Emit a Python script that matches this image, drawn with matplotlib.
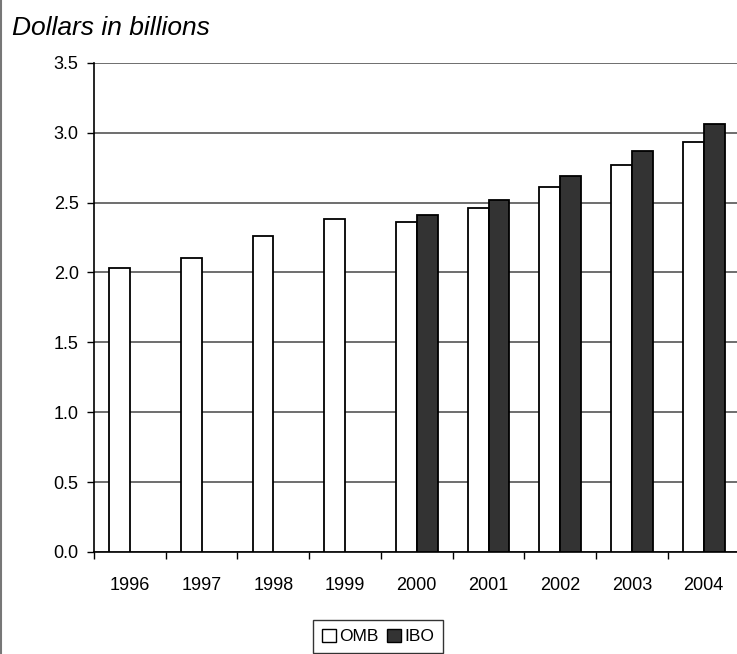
#! /usr/bin/env python

import numpy as np
import matplotlib.pyplot as plt
from matplotlib.lines import Line2D
from matplotlib.patches import Patch

plt.rcParams['font.family'] = ['Liberation Sans', 'DejaVu Sans']

# data (dollars in billions)
years = ['1996', '1997', '1998', '1999', '2000', '2001', '2002', '2003', '2004']
omb = [2.03, 2.10, 2.26, 2.38, 2.36, 2.46, 2.61, 2.77, 2.93]
ibo = [None, None, None, None, 2.41, 2.52, 2.69, 2.87, 3.06]

yticks = [0.0, 0.5, 1.0, 1.5, 2.0, 2.5, 3.0, 3.5]

fig = plt.figure(figsize=(7.37, 6.54), dpi=100)
ax = fig.add_axes([0.1275, 0.156, 0.876, 0.748])

x = np.arange(len(years))
w = 0.29

ax.bar(x - w / 2, omb, width=w, color='white', edgecolor='black', linewidth=1.3, zorder=3)
ibo_x = [xi for xi, v in zip(x, ibo) if v is not None]
ibo_v = [v for v in ibo if v is not None]
ax.bar(np.array(ibo_x) + w / 2, ibo_v, width=w, color='#333333', edgecolor='black',
       linewidth=1.3, zorder=3)

# axes
ax.set_xlim(-0.5, len(years) - 0.5)
ax.set_ylim(0, 3.5)
ax.set_yticks(yticks)
ax.set_yticklabels(['%.1f' % t for t in yticks], fontsize=13)
ax.yaxis.grid(True, color='#555555', linewidth=1.2, zorder=0)
ax.set_axisbelow(True)

ax.set_xticks(x)
ax.set_xticklabels(years, fontsize=13)
ax.set_xticks(np.arange(-0.5, len(years), 1.0), minor=True)
ax.tick_params(axis='x', which='major', length=0, pad=18)
ax.tick_params(axis='x', which='minor', length=5, width=1.0, direction='out')
ax.tick_params(axis='y', length=5, width=1.0, direction='out', pad=6)

for s in ['top', 'right']:
    ax.spines[s].set_visible(False)
ax.spines['left'].set_linewidth(1.2)
ax.spines['bottom'].set_linewidth(1.2)

fig.text(0.016, 0.957, 'Dollars in billions', fontsize=19, style='italic',
         va='center', ha='left')

# legend
handles = [Patch(facecolor='white', edgecolor='black', linewidth=1.0, label='OMB'),
           Patch(facecolor='#333333', edgecolor='black', linewidth=1.0, label='IBO')]
leg = fig.legend(handles=handles, loc='lower center', bbox_to_anchor=(0.513, -0.012),
                 ncol=2, fontsize=12.5, frameon=True, fancybox=False,
                 handlelength=0.8, handleheight=0.8, handletextpad=0.2,
                 columnspacing=0.5, borderpad=0.5, edgecolor='black')
leg.get_frame().set_linewidth(1.0)

# border on the left side of the picture
fig.add_artist(Line2D([0.0015, 0.0015], [0, 1], color='#777777', linewidth=1.5))

plt.savefig('out.png', dpi=100)
